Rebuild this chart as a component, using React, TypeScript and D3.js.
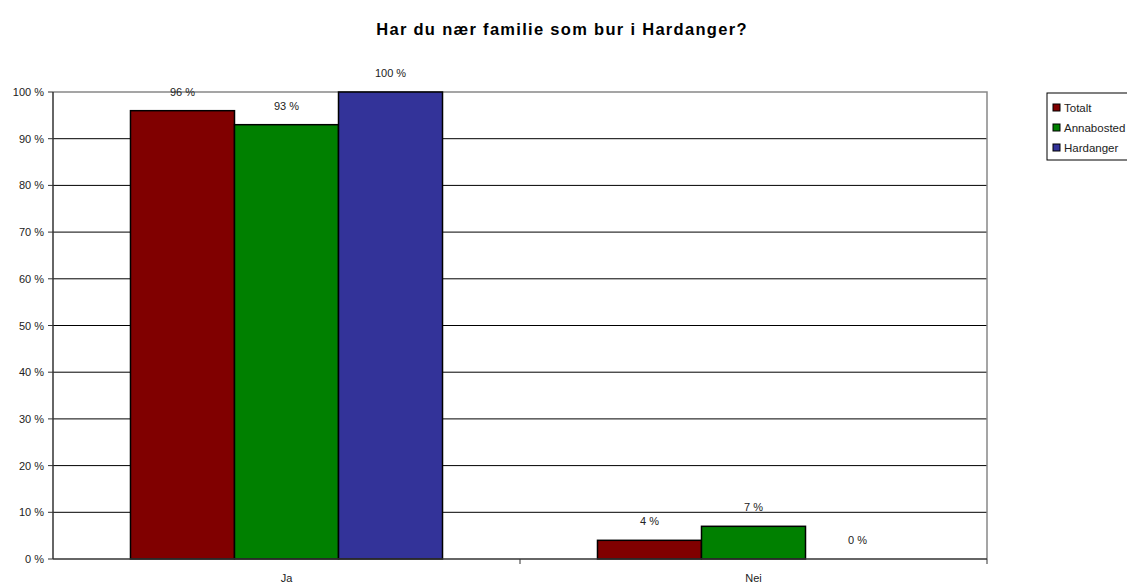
import { useEffect, useRef } from "react";
import * as d3 from "d3";

const categories = ["Ja", "Nei"];
const seriesNames = ["Totalt", "Annabosted", "Hardanger"];
const totalt = [96, 4];
const annabosted = [93, 7];
const hardanger = [100, 0];
const yTicks = [0, 10, 20, 30, 40, 50, 60, 70, 80, 90, 100];
const colors = ["#800000", "#008000", "#333399"];

export default function App() {
  const ref = useRef<SVGSVGElement>(null);

  useEffect(() => {
    const svg = d3.select(ref.current);
    svg.selectAll("*").remove();

    const w = 1127, h = 588;
    const left = 53, right = 987, top = 92, bottom = 559;
    const font = "'Liberation Sans', Arial, sans-serif";
    const values = [totalt, annabosted, hardanger];

    const x = d3.scaleBand().domain(categories).range([left, right]);
    const xs = d3
      .scaleBand()
      .domain(seriesNames)
      .range([0, x.bandwidth()])
      .paddingOuter(0.745);
    const y = d3.scaleLinear().domain([0, 100]).range([bottom, top]);

    svg.append("rect").attr("width", w).attr("height", h).attr("fill", "#fff");

    svg
      .append("text")
      .attr("x", 562)
      .attr("y", 35)
      .attr("text-anchor", "middle")
      .attr("font-family", font)
      .attr("font-size", 16.5)
      .attr("font-weight", "bold")
      .attr("letter-spacing", 1.3)
      .text("Har du nær familie som bur i Hardanger?");

    // grid
    svg
      .selectAll("line.grid")
      .data(yTicks.filter((t) => t > 0 && t < 100))
      .enter()
      .append("line")
      .attr("x1", left)
      .attr("x2", right)
      .attr("y1", (d) => y(d))
      .attr("y2", (d) => y(d))
      .attr("stroke", "#000")
      .attr("stroke-width", 1);

    // plot border top/right
    svg
      .append("path")
      .attr("d", `M${left},${y(100)}H${right}V${bottom}`)
      .attr("fill", "none")
      .attr("stroke", "#888")
      .attr("stroke-width", 1.5);

    // bars
    seriesNames.forEach((s, si) => {
      categories.forEach((c, ci) => {
        const v = values[si][ci];
        const bx = (x(c) ?? 0) + (xs(s) ?? 0);
        if (v > 0) {
          svg
            .append("rect")
            .attr("x", bx)
            .attr("y", y(v))
            .attr("width", xs.bandwidth())
            .attr("height", bottom - y(v))
            .attr("fill", colors[si])
            .attr("stroke", "#000")
            .attr("stroke-width", 1.5);
        }
        svg
          .append("text")
          .attr("x", bx + xs.bandwidth() / 2)
          .attr("y", y(v) - 15)
          .attr("text-anchor", "middle")
          .attr("font-family", font)
          .attr("font-size", 11)
          .attr("fill", "#222")
          .text(`${v} %`);
      });
    });

    // axes
    svg
      .append("line")
      .attr("x1", left)
      .attr("x2", left)
      .attr("y1", top)
      .attr("y2", bottom)
      .attr("stroke", "#333")
      .attr("stroke-width", 1.5);
    svg
      .append("line")
      .attr("x1", left)
      .attr("x2", right)
      .attr("y1", bottom)
      .attr("y2", bottom)
      .attr("stroke", "#333")
      .attr("stroke-width", 1.5);

    yTicks.forEach((t) => {
      svg
        .append("line")
        .attr("x1", left - 5)
        .attr("x2", left)
        .attr("y1", y(t))
        .attr("y2", y(t))
        .attr("stroke", "#333");
      svg
        .append("text")
        .attr("x", left - 9)
        .attr("y", y(t) + 4)
        .attr("text-anchor", "end")
        .attr("font-family", font)
        .attr("font-size", 11)
        .attr("fill", "#222")
        .text(`${t} %`);
    });

    categories.forEach((c) => {
      const xr = (x(c) ?? 0) + x.bandwidth();
      svg
        .append("line")
        .attr("x1", xr)
        .attr("x2", xr)
        .attr("y1", bottom)
        .attr("y2", bottom + 5)
        .attr("stroke", "#333");
      svg
        .append("text")
        .attr("x", (x(c) ?? 0) + x.bandwidth() / 2)
        .attr("y", 582)
        .attr("text-anchor", "middle")
        .attr("font-family", font)
        .attr("font-size", 11)
        .attr("fill", "#222")
        .text(c);
    });

    // legend
    const lg = svg.append("g").attr("transform", "translate(1047,93)");
    lg.append("rect")
      .attr("width", 100)
      .attr("height", 67)
      .attr("fill", "#fff")
      .attr("stroke", "#000");
    seriesNames.forEach((s, i) => {
      lg.append("rect")
        .attr("x", 6)
        .attr("y", 11 + i * 20)
        .attr("width", 7)
        .attr("height", 7)
        .attr("fill", colors[i])
        .attr("stroke", "#000");
      lg.append("text")
        .attr("x", 17)
        .attr("y", 19 + i * 20)
        .attr("font-family", font)
        .attr("font-size", 11.5)
        .attr("fill", "#222")
        .text(s);
    });
  }, []);

  return (
    <svg
      ref={ref}
      width={1127}
      height={588}
      style={{ position: "absolute", left: 0, top: 0 }}
    />
  );
}
